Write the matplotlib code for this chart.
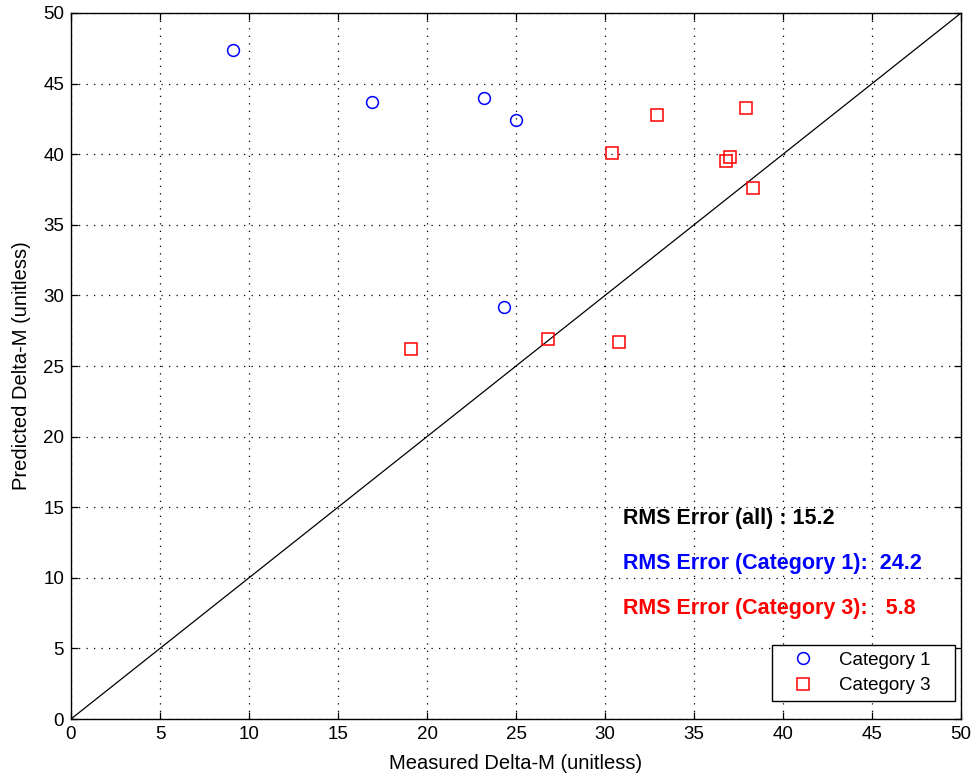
import matplotlib
matplotlib.use("Agg")
import matplotlib.pyplot as plt

plt.rcParams['font.family'] = ['Liberation Sans', 'DejaVu Sans']

# Category 1 measurements
cat1_measured = [9.1, 16.9, 23.2, 25.0, 24.3]
cat1_predicted = [47.4, 43.7, 44.0, 42.4, 29.2]

# Category 3 measurements
cat3_measured = [19.1, 26.8, 30.8, 30.4, 32.9, 37.9, 36.8, 37.0, 38.3]
cat3_predicted = [26.2, 26.9, 26.7, 40.1, 42.8, 43.3, 39.5, 39.8, 37.6]

ticks = [0, 5, 10, 15, 20, 25, 30, 35, 40, 45, 50]
rms_all, rms_cat1, rms_cat3 = 15.2, 24.2, 5.8

FS = 13.5

fig = plt.figure(figsize=(9.76, 7.78), dpi=100)
ax = fig.add_axes([0.0727, 0.0758, 0.912, 0.9075])

ax.plot([0, 50], [0, 50], color='black', linewidth=0.9, zorder=2)
ax.plot(cat1_measured, cat1_predicted, linestyle='none', marker='o',
        markersize=8.5, markerfacecolor='none', markeredgecolor='#0000ff',
        markeredgewidth=1.1, label='Category 1', zorder=3)
ax.plot(cat3_measured, cat3_predicted, linestyle='none', marker='s',
        markersize=8.5, markerfacecolor='none', markeredgecolor='#ff0000',
        markeredgewidth=1.1, label='Category 3', zorder=3)

ax.set_xlim(0, 50)
ax.set_ylim(0, 50)
ax.set_xticks(ticks)
ax.set_yticks(ticks)
ax.tick_params(direction='in', length=5, width=0.9, labelsize=FS,
               top=True, right=True, pad=5)
ax.grid(True, color='black', linestyle=(0, (1, 5)), linewidth=0.9)
for s in ax.spines.values():
    s.set_linewidth(1.0)

ax.set_xlabel('Measured Delta-M (unitless)', fontsize=14.5, labelpad=8)
ax.set_ylabel('Predicted Delta-M (unitless)', fontsize=14.5, labelpad=9)

ax.text(31.0, 14.2, f'RMS Error (all) : {rms_all}', color='black',
        fontsize=15.5, fontweight='bold', va='center')
ax.text(31.0, 11.0, f'RMS Error (Category 1):  {rms_cat1}', color='#0000ff',
        fontsize=15.5, fontweight='bold', va='center')
ax.text(31.0, 7.8, f'RMS Error (Category 3):   {rms_cat3}', color='#ff0000',
        fontsize=15.5, fontweight='bold', va='center')

leg = ax.legend(loc='lower left', mode='expand',
                bbox_to_anchor=(0.788, 0.0255, 0.2055, 0.0766),
                fontsize=FS, fancybox=False, edgecolor='black', framealpha=1,
                borderpad=0.35, handletextpad=0.6, borderaxespad=0.0,
                labelspacing=0.45, handlelength=2.6, markerscale=1.0)
leg.get_frame().set_linewidth(1.0)

fig.savefig('out.png', dpi=100)
